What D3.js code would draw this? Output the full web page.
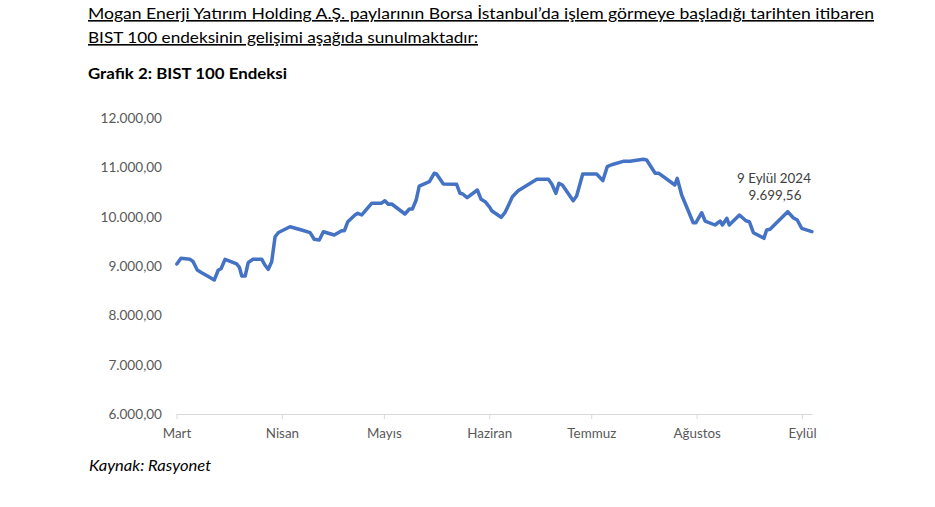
<!DOCTYPE html>
<html>
<head>
<meta charset="utf-8">
<script src="https://cdn.jsdelivr.net/npm/d3@7"></script>
<style>
  html, body { margin: 0; padding: 0; background: #fff; }
  svg { display: block; }
</style>
</head>
<body>
<svg id="chart" width="935" height="507"></svg>
<script>
// ---- DATA ----
// day offset since 1 March 2024
const days = [0.1, 1.3, 4.0, 4.9, 6.1, 7.4, 9.1, 11.1, 12.3, 13.1, 14.3, 17.7, 18.5, 19.2, 20.2, 21.1, 22.4, 25.1, 26.0, 27.0,
  28.0, 29.0, 30.0, 33.4, 36.8, 39.3, 40.5, 42.0, 43.2, 46.4, 48.6, 49.4, 50.4, 52.5, 53.3, 54.5, 57.4, 60.2, 61.3, 62.3,
  63.3, 67.2, 68.5, 69.4, 70.5, 71.4, 74.4, 75.8, 76.5, 78.5, 82.4, 83.4, 84.2, 85.5, 88.5, 89.6, 90.8, 92.1, 92.7, 95.5,
  96.6, 97.8, 98.8, 100.5, 106.0, 109.4, 110.4, 111.6, 112.5, 113.5, 116.7, 117.7, 119.5, 123.6, 125.4, 126.7, 128.0, 131.4, 133.4, 137.3,
  138.3, 140.8, 141.9, 146.6, 147.3, 148.6, 152.0, 152.8, 154.5, 155.5, 158.4, 159.9, 160.6, 161.9, 162.6, 165.6, 167.5, 168.5, 169.7, 172.8,
  173.6, 174.6, 179.8, 181.4, 182.6, 183.9, 186.9];
const values = [9044, 9159, 9139, 9090, 8922, 8867, 8800, 8719, 8922, 8948, 9139, 9044, 8977, 8800, 8800, 9070, 9139, 9139, 9023, 8936,
  9090, 9597, 9683, 9800, 9733, 9679, 9545, 9530, 9699, 9632, 9719, 9719, 9902, 10038, 10072, 10038, 10275, 10275, 10328, 10255,
  10261, 10058, 10159, 10159, 10342, 10626, 10713, 10884, 10870, 10667, 10661, 10478, 10464, 10389, 10545, 10356, 10308, 10200, 10125, 9991,
  10084, 10255, 10409, 10531, 10762, 10762, 10667, 10478, 10681, 10646, 10328, 10423, 10870, 10870, 10734, 11018, 11058, 11127, 11127, 11168,
  11154, 10884, 10884, 10646, 10782, 10444, 9881, 9881, 10084, 9916, 9835, 9916, 9835, 9971, 9835, 10038, 9922, 9902, 9679, 9565,
  9733, 9748, 10105, 9983, 9936, 9768, 9699.56];
const monthLabels = ["Mart", "Nisan", "Mayıs", "Haziran", "Temmuz", "Ağustos", "Eylül"];
const monthDays = [0, 31, 61, 92, 122, 153, 184];
const yTicks = [6000, 7000, 8000, 9000, 10000, 11000, 12000];
const titleLines = ["Mogan Enerji Yatırım Holding A.Ş. paylarının Borsa İstanbul’da işlem görmeye başladığı tarihten itibaren",
  "BIST 100 endeksinin gelişimi aşağıda sunulmaktadır:"];
const chartTitle = "Grafik 2: BIST 100 Endeksi";
const sourceText = "Kaynak: Rasyonet";
const annotation = ["9 Eylül 2024", "9.699,56"];

// ---- DRAW ----
const svg = d3.select("#chart");
const font = "Lato, 'Open Sans', sans-serif";

const x = d3.scaleLinear().domain([0, 187]).range([176.5, 812.2]);
const y = d3.scaleLinear().domain([6000, 12000]).range([414, 118.3]);

const fmt = v => {
  const s = d3.format(",.2f")(v);
  return s.replace(/,/g, "#").replace(".", ",").replace(/#/g, ".");
};

// Titles
svg.append("text").attr("x", 88).attr("y", 19)
  .attr("font-family", font).attr("font-size", 16).attr("fill", "#000")
  .attr("textLength", 786).attr("lengthAdjust", "spacingAndGlyphs")
  .style("text-decoration", "underline")
  .text(titleLines[0]);
svg.append("text").attr("x", 88).attr("y", 43)
  .attr("font-family", font).attr("font-size", 16).attr("fill", "#000")
  .attr("textLength", 390).attr("lengthAdjust", "spacingAndGlyphs")
  .style("text-decoration", "underline")
  .text(titleLines[1]);

svg.append("text").attr("x", 88).attr("y", 79)
  .attr("font-family", font).attr("font-size", 16).attr("font-weight", "bold").attr("fill", "#000")
  .attr("textLength", 199).attr("lengthAdjust", "spacingAndGlyphs")
  .text(chartTitle);

svg.append("text").attr("x", 89).attr("y", 471)
  .attr("font-family", font).attr("font-size", 15).attr("font-style", "italic").attr("fill", "#000")
  .attr("textLength", 122).attr("lengthAdjust", "spacingAndGlyphs")
  .text(sourceText);

// Y axis labels (no axis line)
const yAxis = d3.axisLeft(y).tickValues(yTicks).tickFormat(fmt).tickSize(0).tickPadding(0);
const gy = svg.append("g").attr("transform", "translate(162,0)").call(yAxis);
gy.select(".domain").remove();
gy.selectAll("text").attr("font-family", font).attr("font-size", 13.6).attr("fill", "#595959");

// X axis
const xAxis = d3.axisBottom(x).tickValues(monthDays).tickFormat((d, i) => monthLabels[i])
  .tickSizeInner(5).tickSizeOuter(0).tickPadding(9);
const gx = svg.append("g").attr("transform", "translate(0,414)").call(xAxis);
gx.select(".domain").attr("stroke", "#d9d9d9").attr("stroke-width", 1);
gx.selectAll(".tick line").attr("stroke", "#d9d9d9");
gx.selectAll("text").attr("font-family", font).attr("font-size", 13.4).attr("fill", "#595959");

// Line
const data = days.map((d, i) => ({ d, v: values[i] }));
const line = d3.line().x(p => x(p.d)).y(p => y(p.v));
svg.append("path").datum(data)
  .attr("fill", "none").attr("stroke", "#4472C4").attr("stroke-width", 3.5)
  .attr("stroke-linejoin", "round").attr("stroke-linecap", "round")
  .attr("d", line);

// Annotation
const ann = svg.append("text").attr("font-family", font).attr("font-size", 13.4).attr("fill", "#404040")
  .attr("text-anchor", "middle");
ann.append("tspan").attr("x", 774).attr("y", 183).text(annotation[0]);
ann.append("tspan").attr("x", 775).attr("y", 200).text(annotation[1]);
</script>
</body>
</html>
